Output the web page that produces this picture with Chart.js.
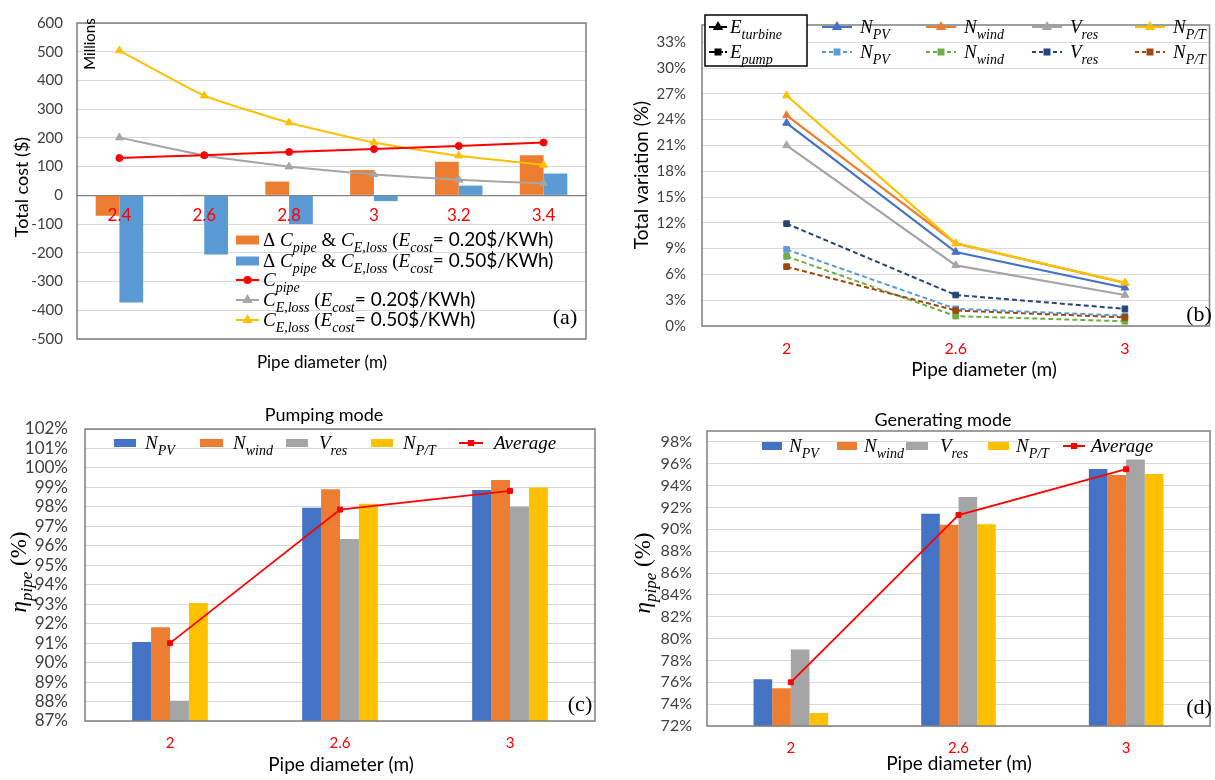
<!DOCTYPE html>
<html>
<head>
<meta charset="utf-8">
<script src="https://cdn.jsdelivr.net/npm/chart.js@4.4.1/dist/chart.umd.min.js"></script>
<style>
  body { margin: 0; background: #fff; width: 1215px; height: 780px; position: relative; overflow: hidden; }
  canvas { position: absolute; }
</style>
</head>
<body>
<canvas id="costChart" width="600" height="380" style="left:0;top:0"></canvas>
<canvas id="variationChart" width="615" height="380" style="left:600px;top:0"></canvas>
<canvas id="pumpChart" width="600" height="400" style="left:0;top:380px"></canvas>
<canvas id="genChart" width="615" height="400" style="left:600px;top:380px"></canvas>
<script>
// ---- (a) cost vs pipe diameter (millions $) ----
const costDiameters = ['2.4', '2.6', '2.8', '3', '3.2', '3.4'];
const deltaCost020 = [-71, 1, 48, 88, 117, 140];
const deltaCost050 = [-373, -206, -100, -20, 34, 76];
const pipeCost = [130, 140, 151, 161, 172, 184];
const lossCost020 = [201, 139, 100, 73, 54, 42];
const lossCost050 = [504, 347, 253, 184, 138, 106];
const costTicks = { min: -500, max: 600, step: 100, last: 600 };

// ---- (b) total variation (%) ----
const variationDiameters = ['2', '2.6', '3'];
const turbinePV = [23.6, 8.6, 4.45];
const turbineWind = [24.5, 9.6, 5.0];
const turbineRes = [21.0, 7.05, 3.6];
const turbinePT = [26.8, 9.6, 5.05];
const pumpPV = [8.9, 2.0, 1.2];
const pumpWind = [8.1, 1.15, 0.55];
const pumpRes = [11.9, 3.6, 2.0];
const pumpPT = [6.9, 1.8, 1.0];
const variationTicks = { min: 0, max: 35, step: 3, last: 33 };

// ---- (c) pumping mode pipe efficiency (%) ----
const effDiameters = ['2', '2.6', '3'];
const pumpEffPV = [91.06, 97.96, 98.87];
const pumpEffWind = [91.81, 98.9, 99.38];
const pumpEffRes = [88.04, 96.35, 98.01];
const pumpEffPT = [93.06, 98.16, 99.0];
const pumpEffAvg = [91.0, 97.86, 98.82];
const pumpTicks = { min: 87, max: 102, step: 1, last: 102 };

// ---- (d) generating mode pipe efficiency (%) ----
const genEffPV = [76.28, 91.42, 95.52];
const genEffWind = [75.46, 90.41, 94.97];
const genEffRes = [79.0, 92.95, 96.4];
const genEffPT = [73.19, 90.47, 95.06];
const genEffAvg = [76.0, 91.31, 95.5];
const genTicks = { min: 72, max: 99, step: 2, last: 98 };

// ---- styling helpers ----
const SANS = 'Lato, "Noto Sans", "Liberation Sans", sans-serif';
const SERIF = '"Liberation Serif", "DejaVu Serif", serif';
const TICK = '#404040';
const GRID = '#D9D9D9';
const FRAME = '#7F7F7F';
const C_BLUE = '#4472C4', C_ORANGE = '#ED7D31', C_GREY = '#A5A5A5', C_GOLD = '#FFC000';
const C_LBLUE = '#5B9BD5', C_GREEN = '#70AD47', C_NAVY = '#264478', C_BROWN = '#9E480E';
const C_RED = '#FF0000';

function fontFor(style, size) {
  const sub = style.endsWith('_');
  const s = sub ? Math.round(size * 0.72) : size;
  if (style[0] === 'i') return `italic ${s}px ${SERIF}`;
  if (style[0] === 'r') return `${s}px ${SERIF}`;
  return `${s}px ${SANS}`;
}
function richWidth(ctx, parts, size) {
  let w = 0;
  for (const [t, st] of parts) { ctx.font = fontFor(st, size); w += ctx.measureText(t).width; }
  return w;
}
// draws mixed italic / subscript text; y is the vertical middle of the main text
function drawRich(ctx, parts, x, y, size, color) {
  ctx.save();
  ctx.fillStyle = color || '#000';
  ctx.textBaseline = 'alphabetic';
  ctx.textAlign = 'left';
  const base = y + size * 0.33;
  let cx = x;
  for (const [t, st] of parts) {
    ctx.font = fontFor(st, size);
    const dy = st.endsWith('_') ? size * 0.28 : 0;
    ctx.fillText(t, cx, base + dy);
    cx += ctx.measureText(t).width;
  }
  ctx.restore();
  return cx - x;
}
function drawText(ctx, str, x, y, font, color, align) {
  ctx.save();
  ctx.font = font; ctx.fillStyle = color || '#000';
  ctx.textAlign = align || 'center'; ctx.textBaseline = 'middle';
  ctx.fillText(str, x, y);
  ctx.restore();
}
function drawVText(ctx, x, y, fn) {
  ctx.save();
  ctx.translate(x, y);
  ctx.rotate(-Math.PI / 2);
  fn(ctx);
  ctx.restore();
}
function frame(ctx, a) {
  ctx.save();
  ctx.strokeStyle = FRAME; ctx.lineWidth = 1.5;
  ctx.strokeRect(a.left, a.top, a.right - a.left, a.bottom - a.top);
  ctx.restore();
}
function barSwatch(ctx, x0, x1, y, color, h) {
  ctx.fillStyle = color;
  ctx.fillRect(x0, y - h / 2, x1 - x0, h);
}
function lineSwatch(ctx, x0, x1, y, color, style, radius, dash) {
  ctx.save();
  ctx.strokeStyle = color; ctx.lineWidth = 2;
  if (dash) ctx.setLineDash(dash);
  ctx.beginPath(); ctx.moveTo(x0, y); ctx.lineTo(x1, y); ctx.stroke();
  ctx.setLineDash([]);
  ctx.fillStyle = color;
  Chart.helpers.drawPoint(ctx, { pointStyle: style, radius: radius, rotation: 0, borderWidth: 1 }, (x0 + x1) / 2, y);
  ctx.restore();
}
function decor(draw) {
  return { id: 'panelDecor', afterDraw(chart) { const ctx = chart.ctx; ctx.save(); draw(ctx, chart.chartArea, chart); ctx.restore(); } };
}
// value axis with a fixed range and evenly stepped ticks up to t.last
function yScale(t, opts) {
  return Object.assign({
    min: t.min, max: t.max,
    ticks: { stepSize: t.step, autoSkip: false, color: TICK, font: { family: SANS, size: 15 }, padding: 14 },
    grid: { color: GRID, lineWidth: 1, drawTicks: false },
    border: { display: false },
    afterBuildTicks(scale) {
      const list = [];
      const n = Math.round((t.last - t.min) / t.step);
      for (let i = 0; i <= n; i++) list.push({ value: +(t.min + i * t.step).toFixed(6) });
      scale.ticks = list;
    }
  }, opts || {});
}
const baseOptions = () => ({
  responsive: false, animation: false, devicePixelRatio: 1,
  plugins: { legend: { display: false }, tooltip: { enabled: false }, title: { display: false } }
});

const N = s => [['N', 'i'], [s, 'i_']];
const pipeTitle = [['η', 'i'], ['pipe', 'i_'], [' (%)', 'r']];
const MATH = 19;

// ================= (a) =================
(function () {
  const opts = baseOptions();
  opts.layout = { padding: { top: 14, right: 14, bottom: 41, left: 0 } };
  opts.scales = {
    x: {
      position: { y: 0 },
      grid: { display: false, drawTicks: false },
      border: { color: '#808080', width: 1.3 },
      ticks: { display: false }
    },
    y: yScale(costTicks, {
      afterFit(s) { s.width = 77; }
    })
  };
  const line = (data, color, style, r) => ({
    type: 'line', data, borderColor: color, backgroundColor: color, borderWidth: 2,
    pointStyle: style, pointRadius: r, pointBorderWidth: 1, tension: 0.15, order: 0
  });
  new Chart(document.getElementById('costChart'), {
    type: 'bar',
    data: {
      labels: costDiameters,
      datasets: [
        line(pipeCost, C_RED, 'circle', 3.5),
        line(lossCost020, C_GREY, 'triangle', 4.5),
        line(lossCost050, C_GOLD, 'triangle', 4.5),
        { data: deltaCost020, backgroundColor: C_ORANGE, categoryPercentage: 0.56, barPercentage: 1, order: 5 },
        { data: deltaCost050, backgroundColor: C_LBLUE, categoryPercentage: 0.56, barPercentage: 1, order: 5 }
      ]
    },
    options: opts,
    plugins: [decor((ctx, a, chart) => {
      frame(ctx, a);
      // category labels sit on top of the bars, just under the zero line
      const xs = chart.scales.x, y0 = chart.scales.y.getPixelForValue(0);
      costDiameters.forEach((lab, i) => drawText(ctx, lab, xs.getPixelForValue(i), y0 + 20, `17px ${SANS}`, C_RED));
      drawVText(ctx, 90, 44, c => drawText(c, 'Millions', 0, 0, `15px ${SANS}`, '#000'));
      drawVText(ctx, 22, 187, c => drawText(c, 'Total cost ($)', 0, 0, `18px ${SANS}`, '#000'));
      drawText(ctx, 'Pipe diameter (m)', 322, 363, `17px ${SANS}`, '#000');
      drawText(ctx, '(a)', 565, 318, `22px ${SERIF}`, '#000');
      const sz = MATH, tx = 263;
      const eq = (v) => [[' (', 'r'], ['E', 'i'], ['cost', 'i_'], [`= ${v}$/KWh)`, 's']];
      const delta = [['Δ ', 'r'], ['C', 'i'], ['pipe', 'i_'], [' & ', 'r'], ['C', 'i'], ['E,loss', 'i_']];
      const loss = [['C', 'i'], ['E,loss', 'i_']];
      barSwatch(ctx, 236, 259, 240, C_ORANGE, 9);
      drawRich(ctx, delta.concat(eq('0.20')), tx, 240, sz);
      barSwatch(ctx, 236, 259, 261, C_LBLUE, 9);
      drawRich(ctx, delta.concat(eq('0.50')), tx, 261, sz);
      lineSwatch(ctx, 236, 259, 280, C_RED, 'circle', 3, null);
      drawRich(ctx, [['C', 'i'], ['pipe', 'i_']], tx, 280, sz);
      lineSwatch(ctx, 236, 259, 300, C_GREY, 'triangle', 4, null);
      drawRich(ctx, loss.concat(eq('0.20')), tx, 300, sz);
      lineSwatch(ctx, 236, 259, 320, C_GOLD, 'triangle', 4, null);
      drawRich(ctx, loss.concat(eq('0.50')), tx, 320, sz);
    })]
  });
})();

// ================= (b) =================
(function () {
  const opts = baseOptions();
  opts.layout = { padding: { top: 11, right: 2, bottom: 0, left: 0 } };
  opts.scales = {
    x: {
      offset: true,
      grid: { display: false, drawTicks: false },
      border: { display: false },
      ticks: { color: C_RED, font: { family: SANS, size: 16 }, padding: 13 },
      afterFit(s) { s.height = 54; }
    },
    y: yScale(variationTicks, {
      ticks: { stepSize: 3, autoSkip: false, color: TICK, font: { family: SANS, size: 15 }, padding: 16, callback: v => v + '%' },
      afterFit(s) { s.width = 102; }
    })
  };
  const solid = (data, color) => ({
    data, borderColor: color, backgroundColor: color, borderWidth: 2.2,
    pointStyle: 'triangle', pointRadius: 4.5, pointBorderWidth: 1
  });
  const dashed = (data, color) => ({
    data, borderColor: color, backgroundColor: color, borderWidth: 2, borderDash: [5, 3],
    pointStyle: 'rect', pointRadius: 4, pointBorderWidth: 1
  });
  // the first dataset is painted on top
  new Chart(document.getElementById('variationChart'), {
    type: 'line',
    data: {
      labels: variationDiameters,
      datasets: [
        solid(turbinePT, C_GOLD), solid(turbineWind, C_ORANGE), solid(turbinePV, C_BLUE), solid(turbineRes, C_GREY),
        dashed(pumpPT, C_BROWN), dashed(pumpRes, C_NAVY), dashed(pumpWind, C_GREEN), dashed(pumpPV, C_LBLUE)
      ]
    },
    options: opts,
    plugins: [decor((ctx, a) => {
      frame(ctx, a);
      drawVText(ctx, 42, 175, c => drawText(c, 'Total variation (%)', 0, 0, `19px ${SANS}`, '#000'));
      drawText(ctx, 'Pipe diameter (m)', 384, 370, `19px ${SANS}`, '#000');
      drawText(ctx, '(b)', 599, 315, `22px ${SERIF}`, '#000');
      // legend
      ctx.fillStyle = '#fff';
      ctx.fillRect(105, 15, 102, 51);
      ctx.strokeStyle = '#000'; ctx.lineWidth = 1.5;
      ctx.strokeRect(105, 15, 102, 51);
      const sz = MATH;
      lineSwatch(ctx, 109, 127, 27, '#000', 'triangle', 4, null);
      drawRich(ctx, [['E', 'i'], ['turbine', 'i_']], 130, 27, sz);
      lineSwatch(ctx, 109, 127, 52, '#000', 'rect', 3.5, [6, 2]);
      drawRich(ctx, [['E', 'i'], ['pump', 'i_']], 130, 52, sz);
      const cols = [
        [222, 'PV', C_BLUE, C_LBLUE], [326, 'wind', C_ORANGE, C_GREEN],
        [432, 'res', C_GREY, C_NAVY], [535, 'P/T', C_GOLD, C_BROWN]
      ];
      for (const [x, sub, c1, c2] of cols) {
        const lab = sub === 'res' ? [['V', 'i'], ['res', 'i_']] : N(sub);
        lineSwatch(ctx, x, x + 30, 27, c1, 'triangle', 4, null);
        drawRich(ctx, lab, x + 38, 27, sz);
        lineSwatch(ctx, x, x + 30, 52, c2, 'rect', 3.5, [4, 3]);
        drawRich(ctx, lab, x + 38, 52, sz);
      }
    })]
  });
})();

// ================= (c) and (d) =================
function efficiencyChart(id, series, avg, ticks, geom) {
  const opts = baseOptions();
  opts.layout = { padding: { top: geom.top, right: geom.right, bottom: 0, left: 0 } };
  opts.scales = {
    x: {
      grid: { display: false, drawTicks: false },
      border: { display: false },
      ticks: { color: C_RED, font: { family: SANS, size: 15 }, padding: 13 },
      afterFit(s) { s.height = geom.xh; }
    },
    y: yScale(ticks, {
      ticks: { stepSize: ticks.step, autoSkip: false, color: TICK, font: { family: SANS, size: geom.tickSize }, padding: geom.tickPad, callback: v => v + '%' },
      afterFit(s) { s.width = geom.left; }
    })
  };
  const colors = [C_BLUE, C_ORANGE, C_GREY, C_GOLD];
  const datasets = series.map((d, i) => ({
    data: d, backgroundColor: colors[i], categoryPercentage: 0.445, barPercentage: 1, order: 5
  }));
  datasets.push({
    type: 'line', data: avg, borderColor: C_RED, backgroundColor: C_RED, borderWidth: 1.8,
    pointStyle: 'rect', pointRadius: 3.5, pointBorderWidth: 1, order: 0
  });
  new Chart(document.getElementById(id), {
    type: 'bar',
    data: { labels: effDiameters, datasets },
    options: opts,
    plugins: [decor((ctx, a) => {
      frame(ctx, a);
      drawText(ctx, geom.title, geom.titleX, geom.titleY, `18px ${SANS}`, '#000');
      drawText(ctx, 'Pipe diameter (m)', geom.xtX, geom.xtY, `19px ${SANS}`, '#000');
      drawText(ctx, geom.tag, geom.tagX, geom.tagY, `22px ${SERIF}`, '#000');
      drawVText(ctx, geom.ytX, geom.ytY, c => {
        const w = richWidth(c, pipeTitle, 23);
        drawRich(c, pipeTitle, -w / 2, 0, 23);
      });
      const ly = geom.legendY, sz = MATH;
      const labels = [N('PV'), N('wind'), [['V', 'i'], ['res', 'i_']], N('P/T')];
      geom.legend.forEach(([x0, x1, tx], i) => {
        barSwatch(ctx, x0, x1, ly, colors[i], 8);
        drawRich(ctx, labels[i], tx, ly, sz);
      });
      const [lx0, lx1, ltx] = geom.avgLegend;
      lineSwatch(ctx, lx0, lx1, ly, C_RED, 'rect', 3, null);
      drawRich(ctx, [['Average', 'i']], ltx, ly, sz);
    })]
  });
}

efficiencyChart('pumpChart', [pumpEffPV, pumpEffWind, pumpEffRes, pumpEffPT], pumpEffAvg, pumpTicks, {
  top: 49, right: 4, left: 85, xh: 59, tickSize: 17, tickPad: 17,
  title: 'Pumping mode', titleX: 324, titleY: 35,
  xtX: 341, xtY: 385, tag: '(c)', tagX: 580, tagY: 325, ytX: 18, ytY: 192,
  legendY: 63,
  legend: [[114, 136, 145], [200, 223, 233], [286, 308, 319], [371, 393, 403]],
  avgLegend: [459, 483, 494]
});

efficiencyChart('genChart', [genEffPV, genEffWind, genEffRes, genEffPT], genEffAvg, genTicks, {
  top: 51, right: 1, left: 107, xh: 54, tickSize: 16, tickPad: 15,
  title: 'Generating mode', titleX: 343, titleY: 40,
  xtX: 359, xtY: 384, tag: '(d)', tagX: 599, tagY: 328, ytX: 42, ytY: 193,
  legendY: 66,
  legend: [[162, 182, 189], [237, 257, 264], [306, 328, 340], [388, 409, 416]],
  avgLegend: [463, 485, 491]
});
</script>
</body>
</html>
